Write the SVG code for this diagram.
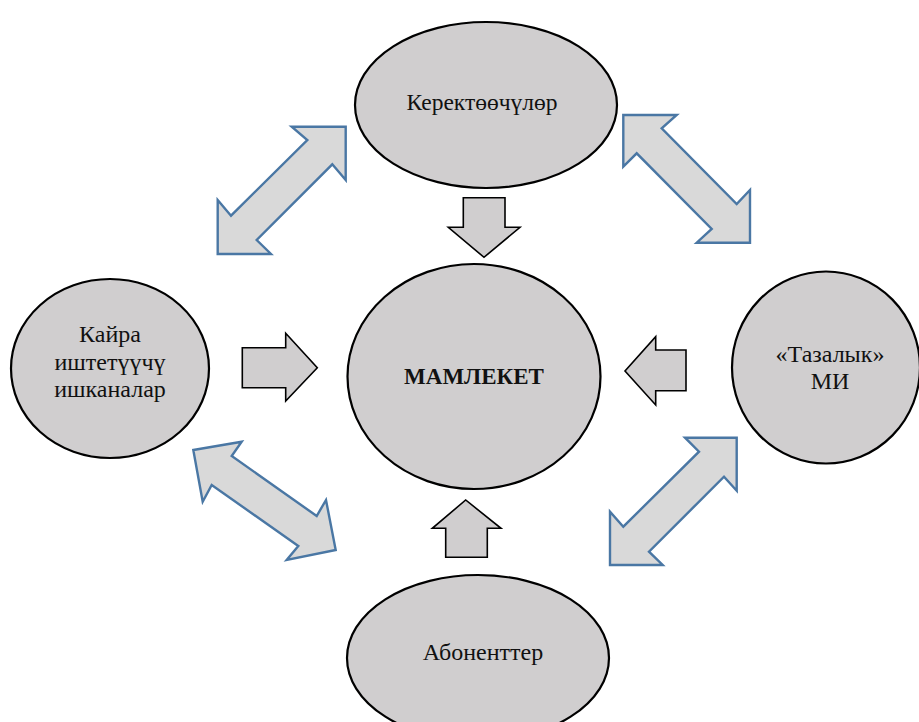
<svg xmlns="http://www.w3.org/2000/svg" width="919" height="722" viewBox="0 0 919 722">
<style>
.node{fill:#d0cecf;stroke:#000;stroke-width:2.2}
.arr{fill:#d0cecf;stroke:#000;stroke-width:1.6;stroke-linejoin:miter}
.dbl{fill:#d9d9d9;stroke:#4a77a4;stroke-width:2.4;stroke-linejoin:miter}
text{font-family:"Liberation Serif","Times New Roman",serif;font-size:24px;fill:#111;text-anchor:middle}
.b{font-weight:bold;font-size:23px}
</style>
<rect width="919" height="722" fill="#fff"/>
<g id="connectors">
<polygon class="dbl" points="345.7,126.7 345.7,180 332.3,164.3 256.7,240 271,254 217.7,254 217.7,200 231,215.7 307.3,140 291.7,126.7"/>
<polygon class="dbl" points="623.3,115 676.7,115 661.7,128.3 736.7,204 750,190 750,242.7 696.7,242.7 711.7,229 636.7,153.3 623.3,166.7"/>
<polygon class="dbl" points="193.3,450 241.7,441.7 231.7,456 316.7,516 326,500 335.7,550 286.7,560 298.3,546 211.7,485 202.7,501.7"/>
<polygon class="dbl" points="736.7,437.7 736.7,490.7 724,476.7 649,551.7 662.7,565 610,565 610,511.7 623.3,526.7 699,451.7 685,437.7"/>
<polygon class="arr" points="463.3,197.7 505,197.7 505,227.3 520,227.3 484,257.3 448.3,227.3 463.3,227.3"/>
<polygon class="arr" points="242.3,347.7 285.7,347.7 285.7,333.3 317.3,367.7 285.7,401 285.7,387.7 242.3,387.7"/>
<polygon class="arr" points="686,350 655.7,350 655.7,336.7 625,371 655.7,405 655.7,390.7 686,390.7"/>
<polygon class="arr" points="445.7,557.3 487.3,557.3 487.3,528.3 501,528.3 465.7,500 432.3,528.3 445.7,528.3"/>
</g>
<g id="node-top">
<ellipse class="node" cx="486" cy="105" rx="131" ry="83"/>
<text x="482" y="110" style="font-size:23.5px">Керектөөчүлөр</text>
</g>
<g id="node-center">
<ellipse class="node" cx="474" cy="376.5" rx="126.5" ry="112.5"/>
<text class="b" x="474" y="384">МАМЛЕКЕТ</text>
</g>
<g id="node-left">
<ellipse class="node" cx="110" cy="368.5" rx="99" ry="89.5"/>
<text x="110" y="342">Кайра</text>
<text x="110" y="370">иштетүүчү</text>
<text x="110" y="397">ишканалар</text>
</g>
<g id="node-right">
<ellipse class="node" cx="826" cy="367.5" rx="94" ry="96"/>
<text x="830" y="362">«Тазалык»</text>
<text x="830" y="389">МИ</text>
</g>
<g id="node-bottom">
<ellipse class="node" cx="478" cy="658" rx="131" ry="83"/>
<text x="483" y="660">Абоненттер</text>
</g>
</svg>
